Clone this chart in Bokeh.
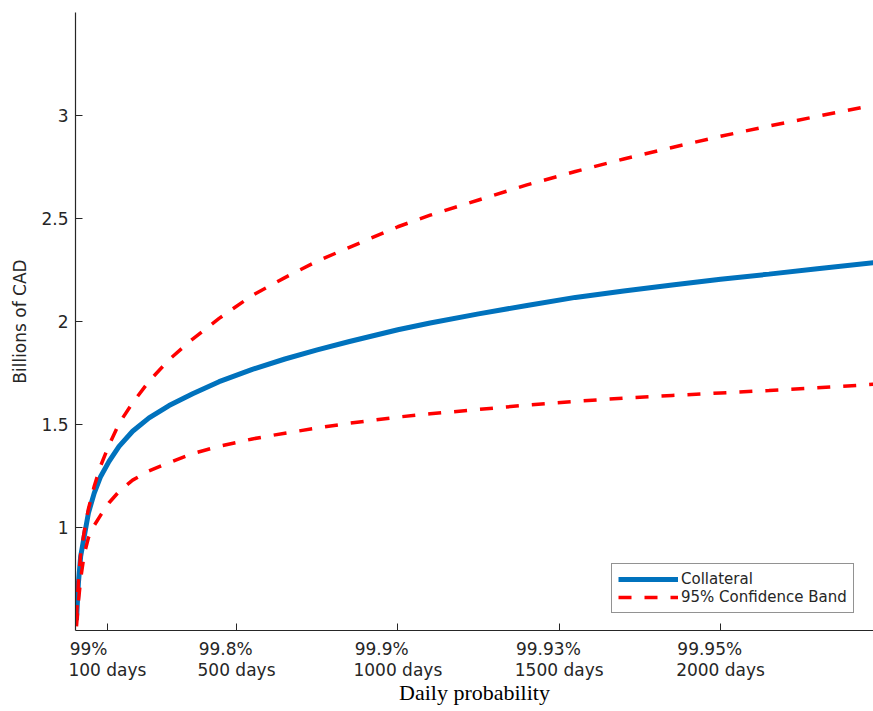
from bokeh.plotting import figure
from bokeh.models import FixedTicker, Legend, LegendItem, Range1d
from bokeh.embed import file_html
from bokeh.resources import INLINE

# ---- data ----
days = [4, 10, 17, 28, 41, 59, 79, 105, 136, 178, 229, 291, 364, 446, 549, 650, 750,
        850, 1000, 1100, 1250, 1400, 1550, 1700, 1850, 2000, 2150, 2300, 2474]
collateral = [0.55, 0.73, 0.86, 0.956, 1.07, 1.167, 1.248, 1.321, 1.394, 1.467, 1.532,
              1.592, 1.649, 1.708, 1.768, 1.818, 1.862, 1.903, 1.960, 1.993, 2.037,
              2.078, 2.117, 2.148, 2.177, 2.205, 2.230, 2.256, 2.285]
upper_band = [0.56, 0.74, 0.87, 0.98, 1.09, 1.20, 1.30, 1.40, 1.505, 1.605, 1.71,
              1.815, 1.915, 2.015, 2.127, 2.213, 2.293, 2.36, 2.46, 2.516, 2.59, 2.663,
              2.728, 2.789, 2.845, 2.899, 2.949, 2.996, 3.05]
lower_band = [0.52, 0.64, 0.75, 0.87, 0.95, 1.01, 1.06, 1.12, 1.175, 1.23, 1.275,
              1.315, 1.359, 1.394, 1.43, 1.458, 1.483, 1.506, 1.536, 1.552, 1.573,
              1.594, 1.612, 1.628, 1.641, 1.653, 1.665, 1.678, 1.695]

NB = "\u00a0"
x_ticks = [100, 500, 1000, 1500, 2000]
x_tick_labels = ["99%" + NB * 7 + "\n100 days",
                 "99.8%" + NB * 4 + "\n500 days",
                 "99.9%" + NB * 6 + "\n1000 days",
                 "99.93%" + NB * 4 + "\n1500 days",
                 "99.95%" + NB * 4 + "\n2000 days"]
y_ticks = [1, 1.5, 2, 2.5, 3]
y_tick_labels = ["1", "1.5", "2", "2.5", "3"]

AX = "#262626"

p = figure(width=873, height=711, output_backend="svg", toolbar_location=None,
           x_range=Range1d(1, 2474), y_range=Range1d(0.5, 3.5),
           min_border_left=75, min_border_right=0, min_border_top=12,
           min_border_bottom=81)
p.outline_line_color = None
p.grid.visible = False
p.background_fill_color = "white"

blue = p.line(days, collateral, line_color="#0072BD", line_width=5)
up = p.line(days, upper_band, line_color="#FF0000", line_width=3.5, line_dash="13 13")
lo = p.line(days, lower_band, line_color="#FF0000", line_width=3.5, line_dash="13 13")

for ax in (p.xaxis[0], p.yaxis[0]):
    ax.axis_line_color = AX
    ax.axis_line_width = 1.2
    ax.major_tick_line_color = AX
    ax.major_tick_in = 7
    ax.major_tick_out = 0
    ax.minor_tick_line_color = None
    ax.major_label_text_font = "DejaVu Sans"
    ax.major_label_text_font_size = "17px"
    ax.major_label_text_color = AX

p.xaxis[0].ticker = FixedTicker(ticks=x_ticks)
p.xaxis[0].major_label_overrides = dict(zip(x_ticks, x_tick_labels))
p.xaxis[0].major_label_standoff = 8
p.xaxis[0].major_label_text_line_height = 1.05
p.xaxis[0].axis_label = "Daily probability"
p.xaxis[0].axis_label_text_font = "Liberation Serif"
p.xaxis[0].axis_label_text_font_size = "22px"
p.xaxis[0].axis_label_text_font_style = "normal"
p.xaxis[0].axis_label_text_color = "black"
p.xaxis[0].axis_label_standoff = -3

p.yaxis[0].ticker = FixedTicker(ticks=y_ticks)
p.yaxis[0].major_label_overrides = dict(zip(y_ticks, y_tick_labels))
p.yaxis[0].major_label_standoff = 7
p.yaxis[0].axis_label = "Billions of CAD"
p.yaxis[0].axis_label_text_font = "DejaVu Sans"
p.yaxis[0].axis_label_text_font_size = "17px"
p.yaxis[0].axis_label_text_font_style = "normal"
p.yaxis[0].axis_label_text_color = AX
p.yaxis[0].axis_label_standoff = 8

legend = Legend(items=[LegendItem(label="Collateral", renderers=[blue]),
                       LegendItem(label="95% Confidence Band", renderers=[up])],
                location=(536, 17))
legend.border_line_color = AX
legend.border_line_width = 1.5
legend.background_fill_color = "white"
legend.background_fill_alpha = 1
legend.padding = 6
legend.spacing = 0
legend.margin = 0
legend.glyph_width = 60
legend.glyph_height = 18
legend.label_height = 18
legend.label_standoff = 3
legend.label_text_font = "DejaVu Sans"
legend.label_text_font_size = "15px"
legend.label_text_color = AX
p.add_layout(legend, "center")

open("out.html", "w").write(file_html(p, INLINE))
